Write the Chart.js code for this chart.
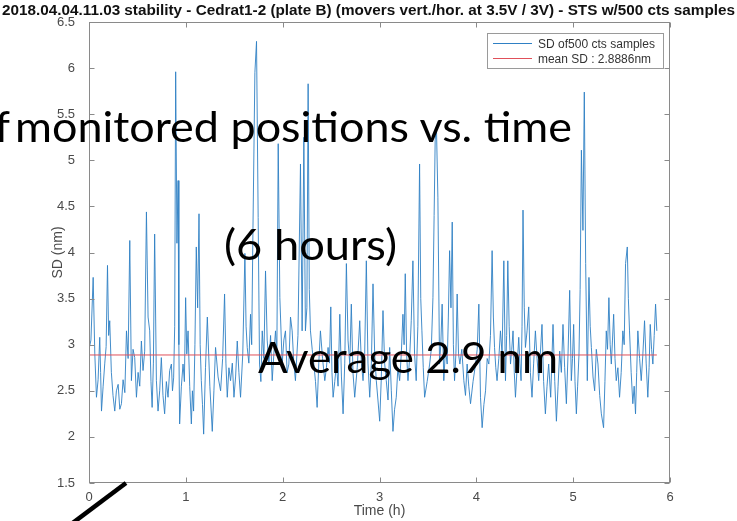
<!DOCTYPE html>
<html>
<head>
<meta charset="utf-8">
<script src="https://cdn.jsdelivr.net/npm/chart.js@4/dist/chart.umd.min.js"></script>
<style>
html,body{margin:0;padding:0;background:#fff;overflow:hidden}
#wrap{position:relative;width:737px;height:521px;overflow:hidden}
#c{position:absolute;left:0;top:0}
#ov{position:absolute;left:0;top:0}
</style>
</head>
<body>
<div id="wrap">
<canvas id="c" width="737" height="521"></canvas>
<svg id="ov" width="737" height="521" xmlns="http://www.w3.org/2000/svg"></svg>
</div>
<script>
// ---------- data ----------
const chartTitle = "2018.04.04.11.03 stability - Cedrat1-2 (plate B) (movers vert./hor. at 3.5V / 3V) - STS w/500 cts samples";
const xAxisTitle = "Time (h)";
const yAxisTitle = "SD (nm)";
const seriesLabels = ["SD of500 cts samples", "mean SD : 2.8886nm"];
const meanSd = 2.8886;
const xTicks = [0, 1, 2, 3, 4, 5, 6];
const yTicks = [1.5, 2, 2.5, 3, 3.5, 4, 4.5, 5, 5.5, 6, 6.5];
const overlayCut = "of";
const overlayLine1 = "monitored positions vs. time";
const overlayLine2 = "(6 hours)";
const overlayLine3 = "Average 2.9 nm";

const timeHours = [
  0.000,0.020,0.043,0.060,0.077,0.094,0.111,0.120,0.129,0.146,
  0.163,0.177,0.191,0.203,0.214,0.231,0.248,0.266,0.283,0.301,
  0.318,0.335,0.352,0.370,0.387,0.404,0.421,0.438,0.455,0.472,
  0.490,0.507,0.524,0.541,0.558,0.575,0.593,0.610,0.627,0.640,
  0.652,0.665,0.678,0.696,0.713,0.730,0.747,0.764,0.781,0.799,
  0.816,0.833,0.851,0.862,0.874,0.885,0.895,0.908,0.920,0.928,
  0.936,0.954,0.971,0.985,0.998,1.010,1.023,1.040,1.057,1.068,
  1.080,1.094,1.108,1.122,1.136,1.148,1.160,1.172,1.184,1.203,
  1.222,1.248,1.273,1.290,1.307,1.333,1.359,1.380,1.400,1.414,
  1.428,1.445,1.462,1.480,1.497,1.514,1.531,1.548,1.565,1.588,
  1.610,1.622,1.634,1.651,1.668,1.680,1.693,1.713,1.730,1.747,
  1.761,1.775,1.789,1.806,1.823,1.840,1.858,1.875,1.892,1.909,
  1.926,1.940,1.954,1.971,1.995,2.012,2.029,2.046,2.064,2.081,
  2.098,2.115,2.132,2.158,2.184,2.201,2.219,2.235,2.250,2.263,
  2.275,2.287,2.305,2.322,2.339,2.356,2.373,2.390,2.412,2.435,
  2.452,2.469,2.483,2.497,2.509,2.521,2.538,2.555,2.572,2.590,
  2.607,2.624,2.641,2.658,2.675,2.693,2.709,2.726,2.744,2.770,
  2.796,2.813,2.830,2.847,2.864,2.881,2.899,2.916,2.933,2.950,
  2.967,2.984,3.002,3.019,3.036,3.053,3.070,3.088,3.105,3.122,
  3.139,3.156,3.173,3.190,3.208,3.225,3.242,3.254,3.266,3.280,
  3.294,3.311,3.328,3.345,3.362,3.379,3.396,3.414,3.426,3.438,
  3.452,3.466,3.492,3.518,3.535,3.552,3.564,3.575,3.588,3.603,
  3.620,3.633,3.647,3.664,3.681,3.699,3.711,3.724,3.738,3.751,
  3.763,3.775,3.789,3.802,3.816,3.830,3.850,3.871,3.888,3.905,
  3.922,3.940,3.966,3.992,4.009,4.026,4.043,4.060,4.078,4.095,
  4.112,4.129,4.146,4.163,4.176,4.188,4.201,4.214,4.232,4.249,
  4.266,4.284,4.301,4.313,4.325,4.339,4.353,4.366,4.379,4.392,
  4.404,4.421,4.438,4.450,4.462,4.472,4.482,4.495,4.507,4.524,
  4.541,4.558,4.575,4.592,4.610,4.627,4.644,4.661,4.678,4.695,
  4.713,4.730,4.747,4.768,4.792,4.810,4.827,4.844,4.861,4.878,
  4.895,4.912,4.930,4.947,4.964,4.981,4.993,5.005,5.019,5.033,
  5.046,5.060,5.072,5.085,5.101,5.115,5.129,5.146,5.163,5.176,
  5.188,5.205,5.222,5.239,5.256,5.274,5.291,5.314,5.328,5.342,
  5.355,5.369,5.382,5.394,5.406,5.418,5.432,5.445,5.462,5.479,
  5.496,5.513,5.527,5.541,5.559,5.570,5.582,5.599,5.616,5.630,
  5.644,5.656,5.668,5.686,5.703,5.720,5.737,5.754,5.771,5.784,
  5.796,5.810,5.823,5.837,5.851,5.864
];
const sdNm = [
  2.95,3.05,3.73,2.90,2.43,2.62,3.08,2.70,2.28,2.55,
  2.80,2.98,3.86,3.10,3.26,2.70,2.45,2.28,2.50,2.57,
  2.30,2.36,2.62,2.48,3.15,2.85,4.13,2.61,2.95,2.86,
  2.43,2.70,2.55,3.04,2.72,2.93,4.44,3.30,3.15,2.60,
  2.32,2.80,4.20,2.61,2.28,2.50,2.86,2.45,2.25,2.60,
  2.43,2.72,2.79,2.50,2.64,3.20,5.96,4.10,4.78,3.00,
  2.14,2.55,2.79,2.60,3.51,2.90,3.15,2.55,2.14,2.50,
  2.28,3.00,4.06,3.40,4.42,3.00,2.61,2.35,2.03,2.75,
  3.30,2.55,2.06,2.50,2.97,2.65,2.50,2.85,3.55,2.80,
  2.43,2.75,2.61,2.80,2.43,2.65,3.04,2.70,2.43,2.90,
  3.99,3.20,2.97,2.80,3.33,3.00,4.24,5.95,6.29,4.38,
  2.79,2.60,3.15,2.85,3.80,3.05,2.79,3.10,2.61,2.90,
  3.15,2.90,5.18,3.51,2.79,3.05,3.15,2.70,2.79,3.30,
  3.15,2.80,2.61,3.10,4.96,3.15,5.25,3.15,3.40,5.83,
  3.60,3.15,2.95,2.79,2.60,2.32,2.80,3.15,2.85,2.61,
  2.75,2.97,2.80,3.41,2.70,2.43,2.60,2.79,2.55,3.33,
  2.65,2.25,2.80,3.88,3.05,2.79,3.44,2.70,2.43,2.75,
  3.26,2.80,2.61,2.90,3.91,2.80,2.43,2.80,3.66,2.90,
  2.61,2.40,2.17,2.65,3.37,2.80,2.61,2.40,2.97,2.50,
  2.06,2.30,2.43,2.75,2.61,2.90,3.33,3.00,3.77,2.90,
  2.61,2.85,3.26,3.91,2.90,2.61,3.20,4.96,3.50,3.15,
  2.75,2.43,2.60,2.79,2.95,3.51,4.40,5.22,5.36,4.60,
  2.79,3.00,3.44,2.61,2.95,2.79,3.30,4.02,3.40,4.33,
  3.00,2.61,2.90,3.55,2.90,2.79,2.95,2.61,2.45,2.79,
  2.55,2.36,2.60,2.79,2.95,3.44,2.43,2.10,2.35,2.50,
  2.85,2.79,3.10,4.02,3.30,2.97,2.75,2.61,2.85,3.15,
  2.90,3.91,2.61,3.10,3.91,3.20,2.79,2.95,3.15,2.70,
  2.43,2.75,3.08,2.80,2.61,3.20,4.46,3.40,2.97,3.15,
  3.41,2.70,2.43,2.80,3.15,2.85,2.61,2.90,3.22,2.60,
  2.25,2.55,2.79,2.43,3.22,2.60,2.17,2.55,2.93,2.70,
  3.22,2.75,2.36,2.90,3.59,2.61,2.85,3.22,2.60,2.25,
  2.55,2.89,3.60,5.11,4.24,5.74,3.88,2.61,3.73,3.20,
  2.97,2.65,2.50,2.95,2.79,2.45,2.25,2.10,2.60,3.15,
  2.95,3.51,3.00,2.79,3.05,3.33,2.85,2.61,2.75,2.43,
  2.70,3.15,3.00,3.88,4.06,3.50,3.15,2.70,2.36,2.55,
  2.25,2.70,3.15,2.85,2.61,2.90,3.26,2.80,2.43,2.75,
  3.22,2.95,2.79,3.10,3.44,3.15
];

// ---------- styling ----------
const axisColor = '#8a8a8a';
const labelColor = '#4a4a4a';
const seriesColors = ['#2f80c4', '#e0505a'];

const boxPlugin = {
  id: 'matlabBox',
  afterDatasetsDraw(chart) {
    const {ctx, chartArea: a, scales: {x, y}} = chart;
    ctx.save();
    ctx.strokeStyle = axisColor;
    ctx.lineWidth = 1;
    const l = Math.round(a.left) + 0.5, r = Math.round(a.right) - 0.5;
    const t = Math.round(a.top) + 0.5, b = Math.round(a.bottom) - 0.5;
    ctx.strokeRect(l, t, r - l, b - t);
    const L = 5;
    ctx.beginPath();
    xTicks.forEach(v => {
      const px = Math.round(x.getPixelForValue(v)) + 0.5;
      ctx.moveTo(px, b); ctx.lineTo(px, b - L);
      ctx.moveTo(px, t); ctx.lineTo(px, t + L);
    });
    yTicks.forEach(v => {
      const py = Math.round(y.getPixelForValue(v)) + 0.5;
      ctx.moveTo(l, py); ctx.lineTo(l + L, py);
      ctx.moveTo(r, py); ctx.lineTo(r - L, py);
    });
    ctx.stroke();
    ctx.restore();
  }
};

const chart = new Chart(document.getElementById('c'), {
  type: 'line',
  data: {
    datasets: [
      {
        label: seriesLabels[0],
        data: timeHours.map((t, i) => ({x: t, y: sdNm[i]})),
        borderColor: seriesColors[0],
        borderWidth: 0.9,
        pointRadius: 0,
        tension: 0,
        order: 2
      },
      {
        label: seriesLabels[1],
        data: [{x: timeHours[0], y: meanSd}, {x: timeHours[timeHours.length - 1], y: meanSd}],
        borderColor: seriesColors[1],
        borderWidth: 1,
        pointRadius: 0,
        order: 1
      }
    ]
  },
  options: {
    responsive: false,
    devicePixelRatio: 1,
    animation: false,
    layout: {padding: {left: 0, right: 67, top: 22, bottom: 0}},
    plugins: {legend: {display: false}, title: {display: false}, tooltip: {enabled: false}},
    scales: {
      x: {
        type: 'linear', min: 0, max: 6,
        afterBuildTicks: s => { s.ticks = xTicks.map(v => ({value: v})); },
        afterFit: s => { s.height = 38; },
        grid: {display: false, drawTicks: false},
        border: {display: false},
        ticks: {padding: 7, color: labelColor, font: {family: 'Liberation Sans', size: 13}, callback: v => String(v), maxRotation: 0},
        title: {display: true, text: xAxisTitle, color: labelColor, font: {family: 'Liberation Sans', size: 14}, padding: {top: 0, bottom: 1.5}}
      },
      y: {
        type: 'linear', min: 1.5, max: 6.5,
        afterBuildTicks: s => { s.ticks = yTicks.map(v => ({value: v})); },
        afterFit: s => { s.width = 89; },
        grid: {display: false, drawTicks: false},
        border: {display: false},
        ticks: {padding: 14, color: labelColor, font: {family: 'Liberation Sans', size: 13}, callback: v => String(v)},
        title: {display: true, text: yAxisTitle, color: labelColor, font: {family: 'Liberation Sans', size: 14}, padding: {top: 49.6, bottom: 0}}
      }
    }
  },
  plugins: [boxPlugin]
});

// ---------- overlay (title, legend, slide annotations) ----------
const NS = 'http://www.w3.org/2000/svg';
const svg = document.getElementById('ov');
function el(tag, attrs, text) {
  const e = document.createElementNS(NS, tag);
  for (const k in attrs) e.setAttribute(k, attrs[k]);
  if (text !== undefined) e.textContent = text;
  svg.appendChild(e);
  return e;
}
// figure title
el('text', {x: 2, y: 15, 'font-family': 'Liberation Sans', 'font-weight': 'bold', 'font-size': 14, fill: '#111',
  textLength: 733, lengthAdjust: 'spacingAndGlyphs'}, chartTitle);

// legend (from datasets)
el('rect', {x: 487.5, y: 33.5, width: 176, height: 35, fill: '#fff', stroke: '#9a9a9a', 'stroke-width': 1});
const legendRows = [{ly: 43.5, ty: 47.5, tl: 117}, {ly: 58.5, ty: 62.5, tl: 113}];
chart.data.datasets.forEach((ds, i) => {
  const r = legendRows[i];
  el('line', {x1: 493, y1: r.ly, x2: 532, y2: r.ly, stroke: ds.borderColor, 'stroke-width': 1});
  el('text', {x: 538, y: r.ty, 'font-family': 'Liberation Sans', 'font-size': 12, fill: '#333',
    textLength: r.tl, lengthAdjust: 'spacingAndGlyphs'}, ds.label);
});

// slide annotations
const annFont = {'font-family': 'Lato', 'font-size': 42, fill: '#000', lengthAdjust: 'spacingAndGlyphs'};
el('text', Object.assign({x: 10, y: 142, 'text-anchor': 'end'}, annFont), overlayCut);
el('text', Object.assign({x: 15, y: 142, textLength: 557}, annFont), overlayLine1);
el('text', Object.assign({x: 224, y: 260, textLength: 173}, annFont), overlayLine2);
el('text', Object.assign({x: 258, y: 373, textLength: 300}, annFont), overlayLine3);
el('line', {x1: 126, y1: 483, x2: 66, y2: 528, stroke: '#000', 'stroke-width': 4.5});
</script>
</body>
</html>
